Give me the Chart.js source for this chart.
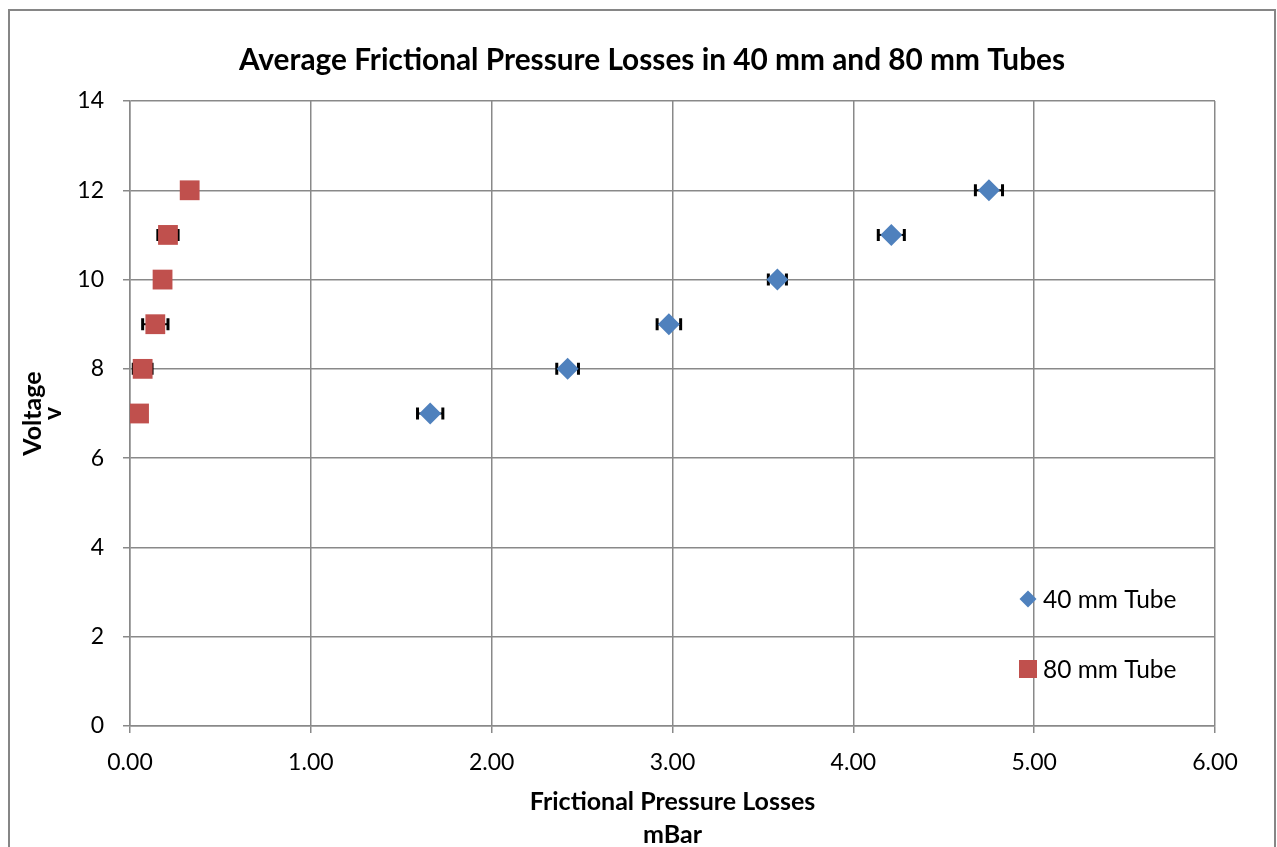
<!DOCTYPE html>
<html>
<head>
<meta charset="utf-8">
<title>Average Frictional Pressure Losses</title>
<script src="https://cdn.jsdelivr.net/npm/chart.js@4"></script>
<style>
  html, body { margin: 0; padding: 0; background: #fff; overflow: hidden; }
  #wrap { position: relative; width: 1277px; height: 847px; }
</style>
</head>
<body>
<div id="wrap"><canvas id="myChart"></canvas></div>
<script>
// valeurs
const voltage = [7, 8, 9, 10, 11, 12];
const loss40 = [1.66, 2.42, 2.98, 3.58, 4.21, 4.75];
const err40 = [0.07, 0.06, 0.065, 0.05, 0.072, 0.075];
const loss80 = [0.05, 0.07, 0.14, 0.18, 0.21, 0.33];
const err80 = [0.02, 0.052, 0.07, 0.03, 0.056, 0.03];
const seriesNames = ["40 mm Tube", "80 mm Tube"];
const xTicks = [0, 1, 2, 3, 4, 5, 6];
const yTicks = [0, 2, 4, 6, 8, 10, 12, 14];

const FONT = "Lato, 'Open Sans', sans-serif";
const GRID = "#898989";

function points(xs, ys) {
  return xs.map((x, i) => ({ x: x, y: ys[i] }));
}

// cadre + titres + legende
const decor = {
  id: "decor",
  beforeDraw(chart) {
    const c = chart.ctx;
    c.save();
    c.fillStyle = "#fff";
    c.fillRect(0, 0, chart.width, chart.height);
    c.strokeStyle = "#868686";
    c.lineWidth = 2;
    c.strokeRect(9, 10, 1266, 900);
    c.restore();
  },
  afterDraw(chart) {
    const c = chart.ctx;
    const a = chart.chartArea;
    c.save();
    c.fillStyle = "#000";
    c.textAlign = "center";
    c.textBaseline = "middle";
    c.font = "bold 29.8px " + FONT;
    c.fillText("Average Frictional Pressure Losses in 40 mm and 80 mm Tubes", 652, 60);

    c.font = "bold 25px " + FONT;
    const cx = (a.left + a.right) / 2;
    c.fillText("Frictional Pressure Losses", cx, 802);
    c.fillText("mBar", cx, 835);

    // titre axe y (pivote)
    const cy = (a.top + a.bottom) / 2;
    c.textBaseline = "alphabetic";
    c.translate(41, cy);
    c.rotate(-Math.PI / 2);
    c.fillText("Voltage", 0, 0);
    c.fillText("v", 0, 20);
    c.restore();

    // legende
    c.save();
    const ds = chart.data.datasets;
    const rows = [599, 669];
    c.font = "24.5px " + FONT;
    c.textBaseline = "middle";
    c.textAlign = "left";
    ds.forEach((d, i) => {
      const y = rows[i];
      c.fillStyle = d.backgroundColor;
      c.beginPath();
      if (d.pointStyle === "rectRot") {
        c.moveTo(1028, y - 8.5);
        c.lineTo(1036.5, y);
        c.lineTo(1028, y + 8.5);
        c.lineTo(1019.5, y);
        c.closePath();
      } else {
        c.rect(1019, y - 9, 18, 18);
      }
      c.fill();
      c.fillStyle = "#000";
      c.fillText(d.label, 1043, y + 1);
    });
    c.restore();
  }
};

// barres d'erreur horizontales
const errorBars = {
  id: "errorBars",
  beforeDatasetsDraw(chart) {
    const c = chart.ctx;
    const xs = chart.scales.x, ys = chart.scales.y;
    c.save();
    chart.data.datasets.forEach((d) => {
      d.data.forEach((p, i) => {
        const e = d.errors[i];
        const x1 = xs.getPixelForValue(p.x - e);
        const x2 = xs.getPixelForValue(p.x + e);
        const y = ys.getPixelForValue(p.y);
        c.strokeStyle = "#000";
        c.lineWidth = 2;
        c.beginPath();
        c.moveTo(x1, y);
        c.lineTo(x2, y);
        c.stroke();
        c.lineWidth = 3;
        c.beginPath();
        c.moveTo(x1, y - 6);
        c.lineTo(x1, y + 6);
        c.moveTo(x2, y - 6);
        c.lineTo(x2, y + 6);
        c.stroke();
      });
    });
    c.restore();
  }
};

let ctx = document.getElementById("myChart").getContext("2d");
let myChart = new Chart(ctx, {
  type: "scatter",
  data: {
    datasets: [
      {
        label: seriesNames[0],
        data: points(loss40, voltage),
        errors: err40,
        pointStyle: "rectRot",
        pointRadius: 11,
        pointHoverRadius: 11,
        backgroundColor: "#4F81BD",
        borderWidth: 0
      },
      {
        label: seriesNames[1],
        data: points(loss80, voltage),
        errors: err80,
        pointStyle: "rect",
        pointRadius: 14,
        pointHoverRadius: 14,
        backgroundColor: "#C0504D",
        borderWidth: 0
      }
    ]
  },
  options: {
    responsive: true,
    maintainAspectRatio: false,
    animation: false,
    layout: { padding: { left: 0, top: 101, right: 62, bottom: 0 } },
    plugins: {
      legend: { display: false },
      title: { display: false },
      tooltip: { enabled: false }
    },
    scales: {
      x: {
        type: "linear",
        min: xTicks[0],
        max: xTicks[xTicks.length - 1],
        afterBuildTicks: (s) => { s.ticks = xTicks.map(v => ({ value: v })); },
        afterFit: (s) => { s.height = 121; },
        ticks: {
          callback: (v) => Number(v).toFixed(2),
          color: "#000",
          font: { family: FONT, size: 23 },
          padding: 16,
          maxRotation: 0
        },
        grid: { color: GRID, lineWidth: 1.5, tickLength: 7 },
        border: { color: GRID, width: 1.5 }
      },
      y: {
        type: "linear",
        min: yTicks[0],
        max: yTicks[yTicks.length - 1],
        afterBuildTicks: (s) => { s.ticks = yTicks.map(v => ({ value: v })); },
        afterFit: (s) => { s.width = 130; },
        ticks: {
          color: "#000",
          font: { family: FONT, size: 23 },
          padding: 19
        },
        grid: { color: GRID, lineWidth: 1.5, tickLength: 7 },
        border: { color: GRID, width: 1.5 }
      }
    }
  },
  plugins: [decor, errorBars]
});
</script>
</body>
</html>
